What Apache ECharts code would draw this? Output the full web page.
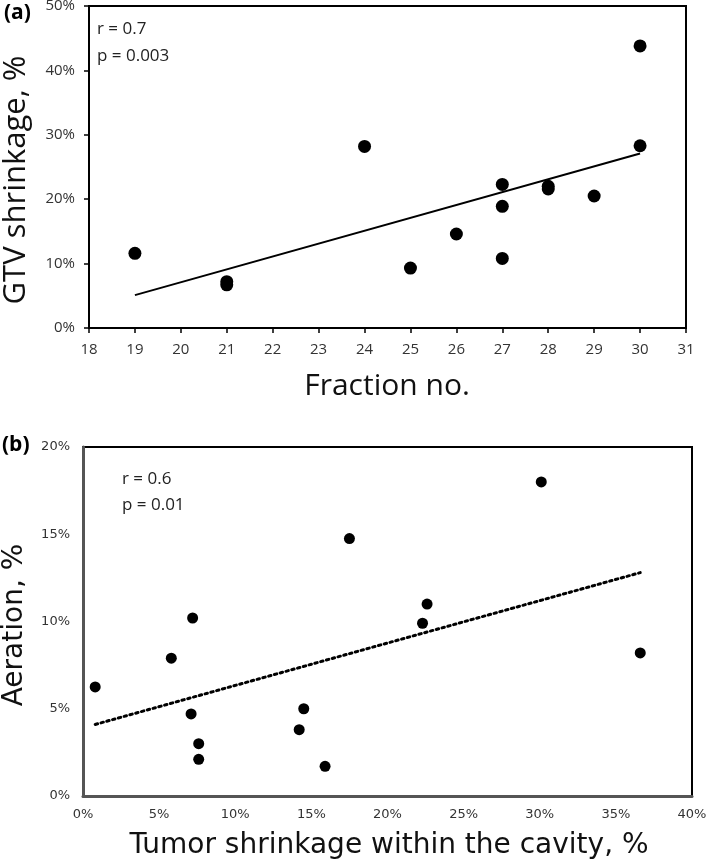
<!DOCTYPE html>
<html>
<head>
<meta charset="utf-8">
<script src="https://cdn.jsdelivr.net/npm/echarts@6/dist/echarts.min.js"></script>
<style>
html,body{margin:0;padding:0;background:#fff;}
#chart{width:709px;height:863px;}
</style>
</head>
<body>
<div id="chart"></div>
<script>
// Panel (a): Fraction no. vs GTV shrinkage (%)
var fractionNo = [19, 21, 21, 24, 25, 26, 27, 27, 27, 28, 28, 29, 30, 30];
var gtvShrinkage = [11.6, 7.2, 6.7, 28.2, 9.3, 14.6, 22.3, 18.9, 10.8, 22.0, 21.6, 20.5, 43.8, 28.3];
var trendA_x = [19, 30];
var trendA_y = [5.1, 27.1];
var xTicksA = [18, 31, 1];
var yTicksA = [0, 50, 10];

// Panel (b): Tumor shrinkage within cavity (%) vs Aeration (%)
var tumorShrinkage = [0.8, 5.8, 7.2, 7.1, 7.6, 7.6, 14.2, 14.5, 15.9, 17.5, 22.6, 22.3, 30.1, 36.6];
var aeration = [6.25, 7.9, 10.2, 4.7, 3.0, 2.1, 3.8, 5.0, 1.7, 14.75, 11.0, 9.9, 18.0, 8.2];
var trendB_x = [0.8, 36.6];
var trendB_y = [4.1, 12.8];
var xTicksB = [0, 40, 5];
var yTicksB = [0, 20, 5];

function pairs(xs, ys){ return xs.map(function(x,i){ return [x, ys[i]]; }); }

var chart = echarts.init(document.getElementById('chart'), null, {renderer:'canvas'});
var fontA = '"Open Sans", sans-serif';
var fontB = '"DejaVu Sans", sans-serif';

var option = {
  animation: false,
  backgroundColor: '#fff',
  grid: [
    {left: 89, top: 6, width: 597, height: 322, show: true, borderColor: '#000', borderWidth: 2, backgroundColor: 'transparent', containLabel: false, outerBoundsMode: 'none'},
    {left: 83, top: 447, width: 609, height: 349, show: true, borderColor: '#000', borderWidth: 2, backgroundColor: 'transparent', containLabel: false, outerBoundsMode: 'none'}
  ],
  xAxis: [
    {gridIndex: 0, type: 'value', min: xTicksA[0], max: xTicksA[1], interval: xTicksA[2],
     axisLine: {show: true, lineStyle: {color: '#000', width: 2}},
     axisTick: {show: true, inside: false, length: 5, lineStyle: {color: '#000', width: 1.5}},
     axisLabel: {margin: 14, fontSize: 15, color: '#333', fontFamily: fontA},
     splitLine: {show: false}},
    {gridIndex: 1, type: 'value', min: xTicksB[0], max: xTicksB[1], interval: xTicksB[2],
     axisLine: {show: true, lineStyle: {color: '#555', width: 3}},
     axisTick: {show: false},
     axisLabel: {margin: 12, fontSize: 13, color: '#333', fontFamily: fontB, formatter: '{value}%'},
     splitLine: {show: false}}
  ],
  yAxis: [
    {gridIndex: 0, type: 'value', min: yTicksA[0], max: yTicksA[1], interval: yTicksA[2],
     axisLine: {show: true, lineStyle: {color: '#000', width: 2}},
     axisTick: {show: true, inside: false, length: 5, lineStyle: {color: '#000', width: 1.5}},
     axisLabel: {margin: 14, fontSize: 15, color: '#333', fontFamily: fontA, formatter: '{value}%'},
     splitLine: {show: false}},
    {gridIndex: 1, type: 'value', min: yTicksB[0], max: yTicksB[1], interval: yTicksB[2],
     axisLine: {show: true, lineStyle: {color: '#555', width: 3}},
     axisTick: {show: false},
     axisLabel: {margin: 13, fontSize: 13, color: '#333', fontFamily: fontB, formatter: '{value}%'},
     splitLine: {show: false}}
  ],
  series: [
    {type: 'line', xAxisIndex: 0, yAxisIndex: 0, data: pairs(trendA_x, trendA_y),
     showSymbol: false, symbol: 'none', lineStyle: {color: '#000', width: 2}, z: 2},
    {type: 'scatter', xAxisIndex: 0, yAxisIndex: 0, data: pairs(fractionNo, gtvShrinkage),
     symbolSize: 13, itemStyle: {color: '#000', opacity: 1}, z: 3},
    {type: 'line', xAxisIndex: 1, yAxisIndex: 1, data: pairs(trendB_x, trendB_y),
     showSymbol: false, symbol: 'none', lineStyle: {color: '#000', width: 3, type: [2.5, 3.5], cap: 'round'}, z: 2},
    {type: 'scatter', xAxisIndex: 1, yAxisIndex: 1, data: pairs(tumorShrinkage, aeration),
     symbolSize: 11, itemStyle: {color: '#000', opacity: 1}, z: 3}
  ],
  graphic: [
    {type: 'text', left: 4, top: 3, style: {text: '(a)', font: 'bold 21px "Open Sans", sans-serif', fill: '#000'}},
    {type: 'text', left: 2, top: 435, style: {text: '(b)', font: 'bold 21px "Open Sans", sans-serif', fill: '#000'}},
    {type: 'text', left: 97, top: 21, style: {text: 'r = 0.7', font: '17px "Open Sans", sans-serif', fill: '#222'}},
    {type: 'text', left: 97, top: 48, style: {text: 'p = 0.003', font: '17px "Open Sans", sans-serif', fill: '#222'}},
    {type: 'text', left: 122, top: 471, style: {text: 'r = 0.6', font: '17px "Open Sans", sans-serif', fill: '#222'}},
    {type: 'text', left: 122, top: 497, style: {text: 'p = 0.01', font: '17px "Open Sans", sans-serif', fill: '#222'}},
    {type: 'text', x: 387, y: 386, style: {text: 'Fraction no.', font: '30px "Open Sans", sans-serif', fill: '#111', textAlign: 'center', textVerticalAlign: 'middle'}},
    {type: 'text', x: 16, y: 180, rotation: Math.PI / 2, style: {text: 'GTV shrinkage, %', font: '31px "Open Sans", sans-serif', fill: '#111', textAlign: 'center', textVerticalAlign: 'middle'}},
    {type: 'text', x: 15, y: 625, rotation: Math.PI / 2, style: {text: 'Aeration, %', font: '28px "DejaVu Sans", sans-serif', fill: '#111', textAlign: 'center', textVerticalAlign: 'middle'}},
    {type: 'text', x: 389, y: 846, style: {text: 'Tumor shrinkage within the cavity, %', font: '28px "DejaVu Sans", sans-serif', fill: '#111', textAlign: 'center', textVerticalAlign: 'middle'}}
  ]
};
chart.setOption(option);
</script>
</body>
</html>
